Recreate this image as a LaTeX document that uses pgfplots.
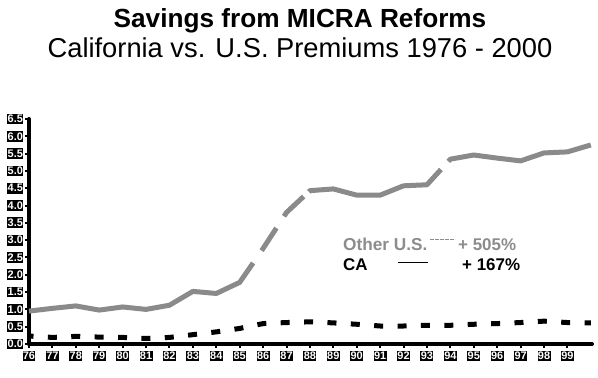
\documentclass[border=0pt]{standalone}
\usepackage{pgfplots}
\pgfplotsset{compat=1.18}
\usepackage{fontspec}
\setmainfont{Liberation Sans}
\definecolor{usgray}{RGB}{138,138,138}
\definecolor{txtgray}{RGB}{140,140,140}
\begin{document}
\begin{tikzpicture}
\path[use as bounding box] (0,0) rectangle (598bp,378bp);
\begin{axis}[
  at={(29bp,34bp)}, anchor=south west,
  scale only axis, width=563bp, height=225bp,
  xmin=76, xmax=100.05, ymin=0, ymax=6.5,
  clip=false,
  axis lines=left,
  axis line style={-, line width=4bp, line cap=round},
  xtick={76,...,99},
  xticklabels={76,77,78,79,80,81,82,83,84,85,86,87,88,89,90,91,92,93,94,95,96,97,98,99},
  ytick={0,0.5,1,1.5,2,2.5,3,3.5,4,4.5,5,5.5,6,6.5},
  yticklabel style={/pgf/number format/fixed, /pgf/number format/fixed zerofill, /pgf/number format/precision=1, xshift=-1.5bp},
  /pgf/number format/assume math mode=true,
  tick align=outside,
  major tick length=4bp,
  tick style={line width=2bp, black},
  ticklabel style={fill=black, text=white, inner xsep=0.4bp, inner ysep=1.5bp, font=\bfseries\fontsize{11}{12}\selectfont},
  xticklabel style={yshift=-2.5bp},
]
% Other U.S.
\addplot[usgray, line width=5bp, line join=round,
  dash pattern=on 242bp off 15bp on 27bp off 14bp on 28bp off 7bp on 142bp off 11bp on 600bp]
  coordinates {
  (76,0.95) (77,1.03) (78,1.10) (79,0.98) (80,1.07) (81,1.00) (82,1.12) (83,1.52)
  (84,1.46) (85,1.78) (86,2.76) (87,3.80) (88,4.43) (89,4.48) (90,4.30) (91,4.30)
  (92,4.57) (93,4.60) (94,5.34) (95,5.46) (96,5.37) (97,5.29) (98,5.52) (99,5.55) (100,5.75)
  };
% CA
\addplot[black, line width=5bp, dash pattern=on 9bp off 14.4bp, dash phase=4.5bp]
  coordinates {
  (76,0.23) (77,0.19) (78,0.22) (79,0.20) (80,0.19) (81,0.16) (82,0.19) (83,0.27)
  (84,0.35) (85,0.45) (86,0.59) (87,0.62) (88,0.64) (89,0.61) (90,0.57) (91,0.52)
  (92,0.52) (93,0.54) (94,0.54) (95,0.57) (96,0.59) (97,0.62) (98,0.66) (99,0.62) (100,0.61)
  };
\end{axis}
% titles
\node[anchor=base, inner sep=0, font=\bfseries\fontsize{26.3}{30}\selectfont] at (300bp,350bp) {Savings from MICRA Reforms};
\node[anchor=base, inner sep=0, font=\fontsize{27.4}{30}\selectfont] at (300bp,320bp) {California vs. U.S. Premiums 1976 - 2000};
% legend
\node[anchor=base west, inner sep=0, text=txtgray, font=\bfseries\fontsize{17.3}{18}\selectfont] at (343bp,127bp) {Other U.S.};
\draw[txtgray, line width=1bp, dash pattern=on 4bp off 1bp] (430bp,138bp) -- (455bp,138bp);
\node[anchor=base west, inner sep=0, text=txtgray, font=\bfseries\fontsize{17}{18}\selectfont] at (458bp,127bp) {+ 505\%};
\node[anchor=base west, inner sep=0, text=black, font=\bfseries\fontsize{17}{18}\selectfont] at (343bp,107bp) {CA};
\draw[black, line width=1bp] (398bp,115bp) -- (428bp,115bp);
\node[anchor=base west, inner sep=0, text=black, font=\bfseries\fontsize{17}{18}\selectfont] at (462bp,107bp) {+ 167\%};
\end{tikzpicture}
\end{document}
